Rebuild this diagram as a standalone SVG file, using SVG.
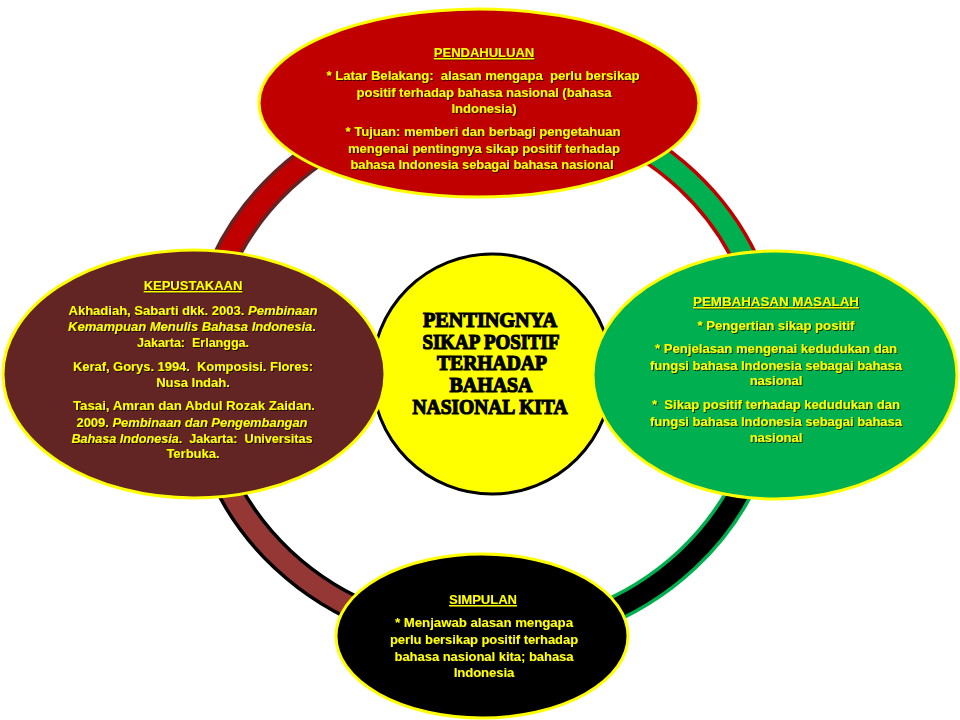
<svg xmlns="http://www.w3.org/2000/svg" width="960" height="720" viewBox="0 0 960 720">
<defs>
<filter id="sh" x="-5%" y="-20%" width="110%" height="140%">
<feDropShadow dx="1" dy="1" stdDeviation="0.4" flood-color="#000" flood-opacity="0.75"/>
</filter>
<style>
.t{font-family:"Liberation Sans",Arial,sans-serif;font-weight:bold;font-size:13px;fill:#ffff00;text-anchor:middle;filter:url(#sh);white-space:pre}
.h{text-decoration:underline}
.i{font-style:italic}
.node{stroke:#ffff00;stroke-width:3}
.c{font-family:"Liberation Serif","DejaVu Serif",serif;font-weight:bold;font-size:20px;fill:#000;stroke:#000;stroke-width:1.2;text-anchor:middle}
</style>
</defs>
<rect width="960" height="720" fill="#ffffff"/>
<g id="connectors" fill="none">
<path d="M485,102 A286,268 0 0 0 199,370" stroke="#632523" stroke-width="27"/>
<path d="M485,102 A286,268 0 0 0 199,370" stroke="#c00000" stroke-width="20"/>
<path d="M485,102 A286,268 0 0 1 771,370" stroke="#c00000" stroke-width="27"/>
<path d="M485,102 A286,268 0 0 1 771,370" stroke="#00b050" stroke-width="20"/>
<path d="M771,370 A286,268 0 0 1 485,638" stroke="#00b050" stroke-width="27"/>
<path d="M771,370 A286,268 0 0 1 485,638" stroke="#000000" stroke-width="20"/>
<path d="M485,638 A286,268 0 0 1 199,370" stroke="#000000" stroke-width="27"/>
<path d="M485,638 A286,268 0 0 1 199,370" stroke="#953735" stroke-width="20"/>
</g>
<g id="center">
<circle cx="492" cy="374" r="120" fill="#ffff00" stroke="#000" stroke-width="3"/>
<text class="c" x="490" y="327" textLength="134" lengthAdjust="spacingAndGlyphs">PENTINGNYA</text>
<text class="c" x="491" y="349" textLength="137" lengthAdjust="spacingAndGlyphs">SIKAP POSITIF</text>
<text class="c" x="492" y="370" textLength="110" lengthAdjust="spacingAndGlyphs">TERHADAP</text>
<text class="c" x="491" y="392" textLength="83" lengthAdjust="spacingAndGlyphs">BAHASA</text>
<text class="c" x="490" y="414" textLength="155" lengthAdjust="spacingAndGlyphs">NASIONAL KITA</text>
</g>
<g id="pendahuluan">
<ellipse cx="479" cy="103" rx="220" ry="94" fill="#c00000" class="node"/>
<text class="t h" x="484" y="57">PENDAHULUAN</text>
<text class="t" x="483" y="80" textLength="313" lengthAdjust="spacingAndGlyphs">* Latar Belakang:  alasan mengapa  perlu bersikap</text>
<text class="t" x="484" y="97" textLength="255" lengthAdjust="spacingAndGlyphs">positif terhadap bahasa nasional (bahasa</text>
<text class="t" x="484" y="113">Indonesia)</text>
<text class="t" x="483" y="136" textLength="275" lengthAdjust="spacingAndGlyphs">* Tujuan: memberi dan berbagi pengetahuan</text>
<text class="t" x="484" y="153" textLength="272" lengthAdjust="spacingAndGlyphs">mengenai pentingnya sikap positif terhadap</text>
<text class="t" x="482" y="169" textLength="263" lengthAdjust="spacingAndGlyphs">bahasa Indonesia sebagai bahasa nasional</text>
</g>
<g id="kepustakaan">
<ellipse cx="194" cy="374" rx="191" ry="124" fill="#632523" class="node"/>
<text class="t h" x="193" y="290">KEPUSTAKAAN</text>
<text class="t" x="193" y="315" textLength="249" lengthAdjust="spacingAndGlyphs">Akhadiah, Sabarti dkk. 2003. <tspan class="i">Pembinaan</tspan></text>
<text class="t" x="192" y="331" textLength="248" lengthAdjust="spacingAndGlyphs"><tspan class="i">Kemampuan Menulis Bahasa Indonesia</tspan>.</text>
<text class="t" x="193" y="347" textLength="112" lengthAdjust="spacingAndGlyphs">Jakarta:  Erlangga.</text>
<text class="t" x="193" y="371" textLength="240" lengthAdjust="spacingAndGlyphs">Keraf, Gorys. 1994.  Komposisi. Flores:</text>
<text class="t" x="193" y="387">Nusa Indah.</text>
<text class="t" x="194" y="410" textLength="242" lengthAdjust="spacingAndGlyphs">Tasai, Amran dan Abdul Rozak Zaidan.</text>
<text class="t" x="192" y="427" textLength="231" lengthAdjust="spacingAndGlyphs">2009. <tspan class="i">Pembinaan dan Pengembangan</tspan></text>
<text class="t" x="192" y="443" textLength="241" lengthAdjust="spacingAndGlyphs"><tspan class="i">Bahasa Indonesia</tspan>.  Jakarta:  Universitas</text>
<text class="t" x="193" y="458">Terbuka.</text>
</g>
<g id="pembahasan">
<ellipse cx="775" cy="375" rx="182" ry="124" fill="#00b050" class="node"/>
<text class="t h" x="776" y="306" textLength="166" lengthAdjust="spacingAndGlyphs">PEMBAHASAN MASALAH</text>
<text class="t" x="776" y="330" textLength="157" lengthAdjust="spacingAndGlyphs">* Pengertian sikap positif</text>
<text class="t" x="776" y="353" textLength="242" lengthAdjust="spacingAndGlyphs">* Penjelasan mengenai kedudukan dan</text>
<text class="t" x="776" y="370" textLength="252" lengthAdjust="spacingAndGlyphs">fungsi bahasa Indonesia sebagai bahasa</text>
<text class="t" x="776" y="385">nasional</text>
<text class="t" x="776" y="409" textLength="248" lengthAdjust="spacingAndGlyphs">*  Sikap positif terhadap kedudukan dan</text>
<text class="t" x="776" y="426" textLength="252" lengthAdjust="spacingAndGlyphs">fungsi bahasa Indonesia sebagai bahasa</text>
<text class="t" x="776" y="442">nasional</text>
</g>
<g id="simpulan">
<ellipse cx="482" cy="636" rx="146" ry="82" fill="#000000" class="node"/>
<text class="t h" x="483" y="604">SIMPULAN</text>
<text class="t" x="484" y="627" textLength="178" lengthAdjust="spacingAndGlyphs">* Menjawab alasan mengapa</text>
<text class="t" x="484" y="644" textLength="188" lengthAdjust="spacingAndGlyphs">perlu bersikap positif terhadap</text>
<text class="t" x="484" y="661" textLength="179" lengthAdjust="spacingAndGlyphs">bahasa nasional kita; bahasa</text>
<text class="t" x="484" y="677">Indonesia</text>
</g>
</svg>
